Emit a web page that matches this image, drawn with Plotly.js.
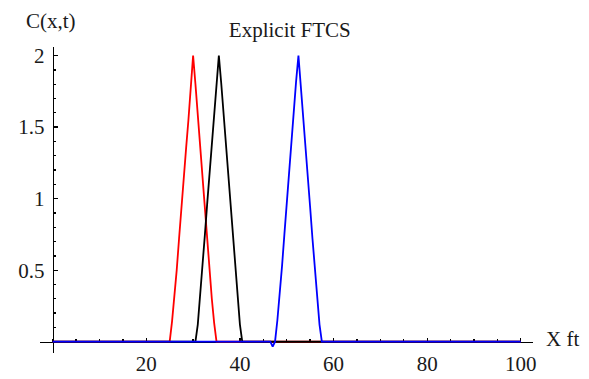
<!DOCTYPE html>
<html>
<head>
<meta charset="utf-8">
<script src="https://cdn.plot.ly/plotly-3.0.1.min.js"></script>
<style>
  html, body { margin: 0; padding: 0; background: #fff; }
  #chart { width: 589px; height: 379px; }
</style>
</head>
<body>
<div id="chart"></div>
<script>
// Concentration profiles C(x,t) from the explicit FTCS scheme, grid step 0.5 ft
const redX = [0, 25, 25.5, 26, 26.5, 27, 27.5, 28, 28.5, 29, 29.5, 30, 30.5, 31, 31.5, 32, 32.5, 33, 33.5, 34, 34.5, 35, 100];
const redC = [0, 0, 0.14, 0.3, 0.5, 0.72, 0.95, 1.15, 1.35, 1.55, 1.78, 2.0, 1.8, 1.58, 1.36, 1.15, 0.93, 0.72, 0.5, 0.3, 0.13, 0, 0];

const blackX = [0, 30.5, 31, 31.5, 32, 32.5, 33, 33.5, 34, 34.5, 35, 35.5, 36, 36.5, 37, 37.5, 38, 38.5, 39, 39.5, 40, 40.5, 100];
const blackC = [0, 0, 0.12, 0.31, 0.52, 0.74, 0.96, 1.17, 1.38, 1.58, 1.8, 2.0, 1.81, 1.6, 1.38, 1.16, 0.95, 0.73, 0.51, 0.3, 0.12, 0, 0];

const blueX = [0, 46.5, 47, 47.5, 48, 48.5, 49, 49.5, 50, 50.5, 51, 51.5, 52, 52.5, 53, 53.5, 54, 54.5, 55, 55.5, 56, 56.5, 57, 57.5, 100];
const blueC = [0, 0, -0.035, 0, 0.15, 0.33, 0.53, 0.75, 0.97, 1.18, 1.39, 1.6, 1.82, 2.0, 1.8, 1.59, 1.37, 1.16, 0.94, 0.72, 0.5, 0.3, 0.12, 0, 0];

const xTicks = [20, 40, 60, 80, 100];
const yTicks = [0.5, 1, 1.5, 2];
const yTickText = ['0.5', '1', '1.5', '2'];

const serif = 'Liberation Serif, Times New Roman, serif';
const textSize = 21;
const lineW = 1.8;

const traces = [
  { x: redX, y: redC, mode: 'lines', line: { color: '#ff0000', width: lineW }, name: 'red' },
  { x: blackX, y: blackC, mode: 'lines', line: { color: '#000000', width: lineW }, name: 'black' },
  { x: blueX, y: blueC, mode: 'lines', line: { color: '#0000ff', width: lineW }, name: 'blue' }
];

// Axes cross at the origin, so both are anchored 'free' at the zero position
const xMin = -2.7, xMax = 102.6;
const yMin = -0.079, yMax = 2.06;
const mTop = 47, mBottom = 26, figH = 379;
const plotH = figH - mTop - mBottom;

const textFont = { family: serif, size: textSize, color: '#1a1a1a' };

const layout = {
  width: 589,
  height: figH,
  margin: { l: 40, r: 56, t: mTop, b: mBottom },
  paper_bgcolor: '#ffffff',
  plot_bgcolor: '#ffffff',
  showlegend: false,
  font: textFont,
  title: {
    text: 'Explicit FTCS',
    font: textFont,
    xref: 'container', x: 0.492, xanchor: 'center',
    yref: 'container', y: 0.921, yanchor: 'middle'
  },
  xaxis: {
    range: [xMin, xMax],
    anchor: 'free',
    position: (0 - yMin) / (yMax - yMin),
    showgrid: false,
    zeroline: false,
    showline: true,
    linecolor: '#000',
    linewidth: 1.3,
    layer: 'below traces',
    tickmode: 'array',
    tickvals: xTicks,
    ticktext: xTicks.map(String),
    ticks: 'inside',
    ticklen: 4,
    tickwidth: 1.3,
    tickcolor: '#000',
    ticklabelstandoff: 3,
    tickfont: textFont,
    minor: { dtick: 5, tick0: 0, ticks: 'inside', ticklen: 2.5, tickwidth: 1.3, tickcolor: '#000', showgrid: false },
    fixedrange: true
  },
  yaxis: {
    range: [yMin, yMax],
    anchor: 'free',
    position: (0 - xMin) / (xMax - xMin),
    showgrid: false,
    zeroline: false,
    showline: true,
    linecolor: '#000',
    linewidth: 1.3,
    layer: 'below traces',
    tickmode: 'array',
    tickvals: yTicks,
    ticktext: yTickText,
    ticks: 'inside',
    ticklen: 4,
    tickwidth: 1.3,
    tickcolor: '#000',
    ticklabelstandoff: 4,
    tickfont: textFont,
    minor: { dtick: 0.1, tick0: 0, ticks: 'inside', ticklen: 2.5, tickwidth: 1.3, tickcolor: '#000', showgrid: false },
    fixedrange: true
  },
  annotations: [
    {
      text: 'C(x,t)', showarrow: false,
      xref: 'paper', x: (0 - xMin) / (xMax - xMin), xanchor: 'center', xshift: -2,
      yref: 'paper', y: (figH - mBottom - 21) / plotH, yanchor: 'middle',
      font: textFont
    },
    {
      text: 'X ft', showarrow: false,
      xref: 'paper', x: 1, xanchor: 'left', xshift: 11,
      yref: 'paper', y: (0 - yMin) / (yMax - yMin), yanchor: 'middle', yshift: 3,
      font: textFont
    }
  ]
};

Plotly.newPlot('chart', traces, layout, { displayModeBar: false, staticPlot: true });
</script>
</body>
</html>
